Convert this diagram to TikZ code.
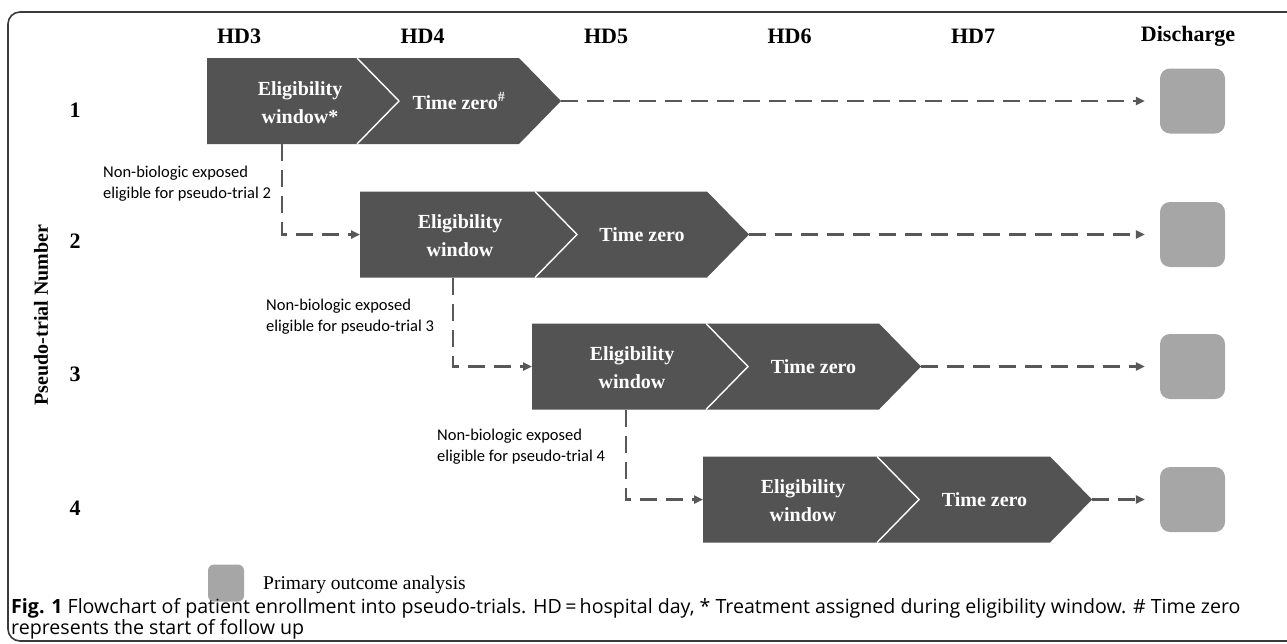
\documentclass[tikz,border=0pt]{standalone}
\usepackage{fontspec}
\setmainfont{Liberation Serif}
\newfontfamily\notefont{Carlito}
\newfontfamily\capfont{Open Sans}
\usepackage{xcolor}
\usetikzlibrary{arrows.meta,positioning,calc}

\definecolor{blockgray}{HTML}{535353}
\definecolor{outgray}{HTML}{A6A6A6}
\definecolor{flowgray}{HTML}{585858}
\definecolor{framegray}{HTML}{3A3A3A}

\begin{document}
\begin{tikzpicture}[x=1pt, y=-1pt,
 head/.style={font=\fontsize{22}{26}\selectfont\bfseries, inner sep=0pt},
 blocktxt/.style={font=\fontsize{20}{28}\selectfont\bfseries, text=white, align=center, inner sep=0pt},
 sepline/.style={white, line width=1.4pt},
 flow/.style={flowgray, line width=2.6pt, dash pattern=on 17pt off 9pt, -{Triangle[length=9pt,width=8pt]}},
 outbox/.style={fill=outgray, rounded corners=10pt, minimum width=65pt, minimum height=65pt, inner sep=0pt},
 note/.style={font=\notefont\fontsize{16.5}{21}\selectfont, align=left, inner sep=0pt}]
\useasboundingbox (0,0) rectangle (1287,643);
% cadre
\draw[framegray, line width=1.6pt, rounded corners=12pt] (1295,12) -- (8,12) -- (8,641) -- (1295,641);
% jours
\foreach \x/\t in {239/HD3, 422.5/HD4, 606/HD5, 789.5/HD6, 973/HD7, 1188/Discharge}
  \node[head] (h\t) at (\x,36) {\t};
% numeros
\foreach \n/\y in {1/110, 2/241, 3/374, 4/508}
  \node[head] (r\n) at (75,\y) {\n};
\node[head, font=\fontsize{20}{24}\selectfont\bfseries, rotate=90] (axis) at (41,315) {Pseudo-trial Number};
% blocs
\foreach \n/\xl/\xs/\xr/\c/\ex/\sx/\st/\hs in {
    1/207/357/519/101/300/282/*/\textsuperscript{\#},
    2/360/535/707/234.5/460/453//,
    3/532/706/879/366.5/632/626//,
    4/703/877/1050/499.5/803/803//} {
  \fill[blockgray] (\xl,\c-43) -- (\xr,\c-43) -- (\xr+42,\c) -- (\xr,\c+43) -- (\xl,\c+43) -- cycle;
  \draw[sepline] (\xs,\c-43) -- (\xs+42,\c) -- (\xs,\c+43);
  \coordinate (w\n) at (\xl,\c);
  \coordinate (tip\n) at (\xr+42,\c);
  \coordinate (foot\n) at (\sx,\c+43);
  \node[blocktxt] (elig\n) at (\ex,\c+1.5) {Eligibility\\window\st};
  \node[blocktxt] (tz\n) at ({(\xs+\xr+42)/2},\c) {Time zero\hs};
  \node[outbox] (out\n) at (1192.5,\c) {};
  \draw[flow, shorten >=15pt] (tip\n) -- (out\n.west);
}
% passages entre essais
\foreach \a/\b/\lx/\ly in {1/2/103/183.5, 2/3/266/316.5, 3/4/437/447} {
  \draw[flow] (foot\a) |- (w\b);
  \node[note, anchor=west] (note\a) at (\lx,\ly) {Non-biologic exposed\\eligible for pseudo-trial \b};
}
% legende
\node[fill=outgray, rounded corners=6pt, minimum width=36pt, minimum height=37pt, inner sep=0pt] (key) at (226,583) {};
\node[font=\fontsize{19.5}{24}\selectfont, anchor=west, inner sep=0pt] (keytxt) at (263,585) {Primary outcome analysis};
% legende de la figure
\node[font=\capfont\fontsize{19.6}{21}\selectfont, anchor=north west, align=left, inner sep=0pt] (cap) at (11,598)
  {\textbf{Fig. 1} Flowchart of patient enrollment into pseudo-trials. HD\,=\,hospital day, * Treatment assigned during eligibility window. \# Time zero\\
   represents the start of follow up};
\end{tikzpicture}
\end{document}
